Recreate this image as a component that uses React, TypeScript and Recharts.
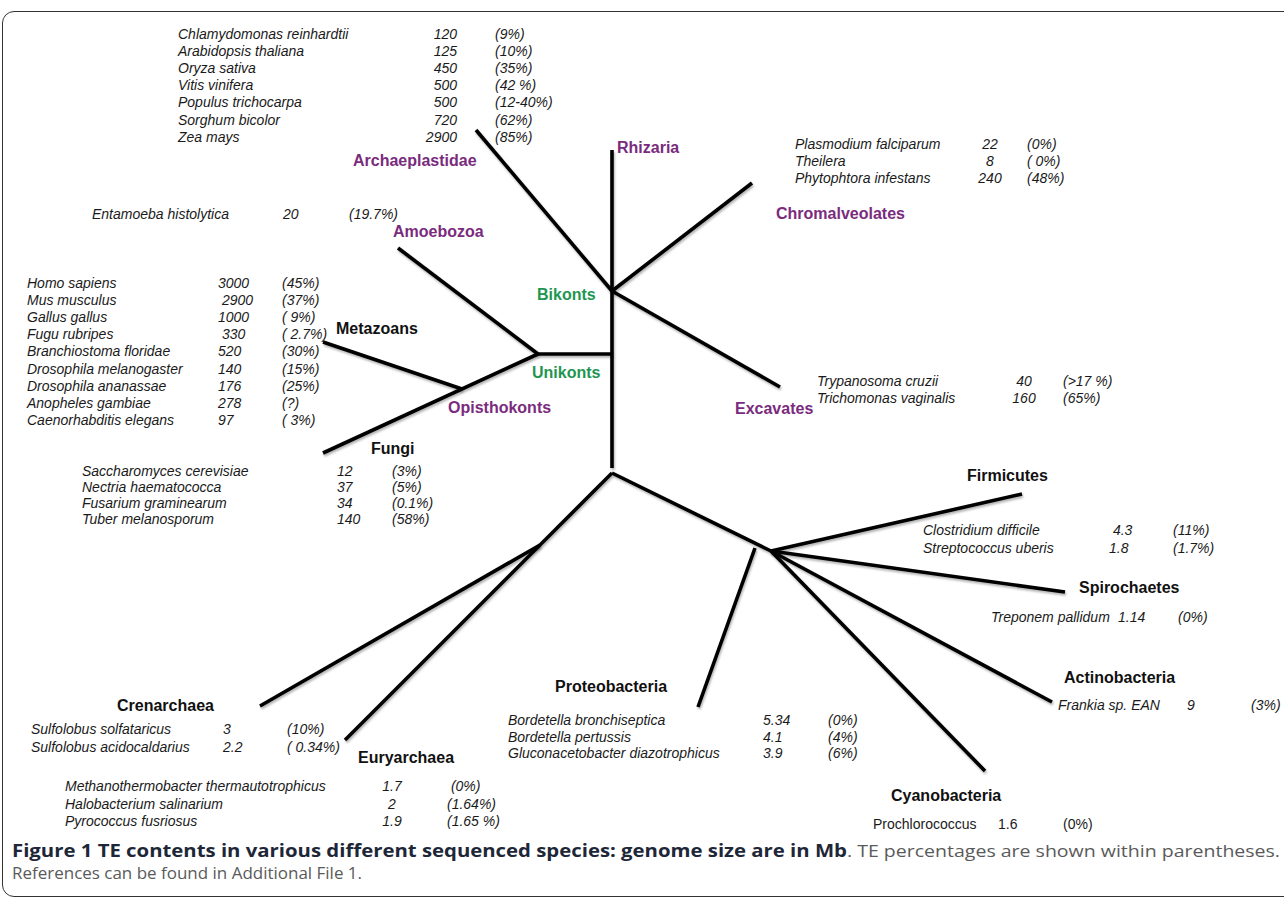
import React from 'react';
import { ScatterChart, Scatter, XAxis, YAxis, ReferenceLine } from 'recharts';

const W = 1284;
const H = 902;

// tree nodes, in figure-plane coordinates
const nodes: Record<string, [number, number]> = {
  bikonts: [612, 291],
  rhizaria: [612, 150],
  archaeplastidae: [476, 130],
  chromalveolates: [752, 183],
  excavates: [780, 387],
  unikontBase: [612, 354],
  unikonts: [538, 354],
  amoebozoa: [398, 248],
  fungi: [323, 453],
  metazoa: [323, 342],
  opisthokonts: [462, 389],
  trunkEnd: [612, 468],
  root: [612, 473],
  archaea: [540, 545],
  crenarchaea: [260, 706],
  euryarchaea: [345, 740],
  bacteria: [771, 551],
  proteoBase: [755, 548],
  firmicutes: [1022, 494],
  spirochaetes: [1065, 592],
  actinobacteria: [1052, 702],
  cyanobacteria: [985, 771],
  proteobacteria: [698, 707],
};

const edges: [string, string][] = [
  ['rhizaria', 'trunkEnd'],
  ['archaeplastidae', 'bikonts'],
  ['chromalveolates', 'bikonts'],
  ['excavates', 'bikonts'],
  ['unikontBase', 'unikonts'],
  ['unikonts', 'amoebozoa'],
  ['unikonts', 'fungi'],
  ['metazoa', 'opisthokonts'],
  ['root', 'euryarchaea'],
  ['archaea', 'crenarchaea'],
  ['root', 'bacteria'],
  ['bacteria', 'firmicutes'],
  ['bacteria', 'spirochaetes'],
  ['bacteria', 'actinobacteria'],
  ['bacteria', 'cyanobacteria'],
  ['proteoBase', 'proteobacteria'],
];

// clade names
const cladeNames = [
  'Archaeplastidae', 'Rhizaria', 'Chromalveolates', 'Amoebozoa', 'Opisthokonts', 'Excavates',
  'Bikonts', 'Unikonts',
  'Metazoans', 'Fungi', 'Firmicutes', 'Spirochaetes', 'Actinobacteria', 'Proteobacteria',
  'Crenarchaea', 'Euryarchaea', 'Cyanobacteria',
];
const cladeKinds = [
  'p', 'p', 'p', 'p', 'p', 'p',
  'g', 'g',
  'k', 'k', 'k', 'k', 'k', 'k', 'k', 'k', 'k',
];
const cladeAnchors: [number, number][] = [
  [353, 160], [617, 147], [776, 213], [393, 231], [448, 407], [735, 408],
  [537, 294], [532, 372],
  [336, 328], [371, 448], [967, 475], [1079, 587], [1064, 677], [555, 686],
  [117, 705], [358, 757], [891, 795],
];

// species: name, genome size (Mb), TE percentage
const plantNames = ['Chlamydomonas reinhardtii', 'Arabidopsis thaliana', 'Oryza sativa', 'Vitis vinifera', 'Populus trichocarpa', 'Sorghum bicolor', 'Zea mays'];
const plantSizes = ['120', '125', '450', '500', '500', '720', '2900'];
const plantPcts = ['(9%)', '(10%)', '(35%)', '(42 %)', '(12-40%)', '(62%)', '(85%)'];

const chromNames = ['Plasmodium falciparum', 'Theilera', 'Phytophtora infestans'];
const chromSizes = ['22', '8', '240'];
const chromPcts = ['(0%)', '( 0%)', '(48%)'];

const amoebaNames = ['Entamoeba histolytica'];
const amoebaSizes = ['20'];
const amoebaPcts = ['(19.7%)'];

const metaNames = ['Homo sapiens', 'Mus musculus', 'Gallus gallus', 'Fugu rubripes', 'Branchiostoma floridae', 'Drosophila melanogaster', 'Drosophila ananassae', 'Anopheles gambiae', 'Caenorhabditis elegans'];
const metaSizes = ['3000', ' 2900', '1000', ' 330', '520', '140', '176', '278', '97'];
const metaPcts = ['(45%)', '(37%)', '( 9%)', '( 2.7%)', '(30%)', '(15%)', '(25%)', '(?)', '( 3%)'];

const fungiNames = ['Saccharomyces cerevisiae', 'Nectria haematococca', 'Fusarium graminearum', 'Tuber melanosporum'];
const fungiSizes = ['12', '37', '34', '140'];
const fungiPcts = ['(3%)', '(5%)', '(0.1%)', '(58%)'];

const excavNames = ['Trypanosoma cruzii', 'Trichomonas vaginalis'];
const excavSizes = ['40', '160'];
const excavPcts = ['(>17 %)', '(65%)'];

const firmNames = ['Clostridium difficile', 'Streptococcus uberis'];
const firmSizes = [' 4.3', '1.8'];
const firmPcts = ['(11%)', '(1.7%)'];

const spiroNames = ['Treponem pallidum'];
const spiroSizes = ['1.14'];
const spiroPcts = ['(0%)'];

const actinoNames = ['Frankia sp. EAN'];
const actinoSizes = ['9'];
const actinoPcts = ['(3%)'];

const cyanoNames = ['Prochlorococcus'];
const cyanoSizes = ['1.6'];
const cyanoPcts = ['(0%)'];

const proteoNames = ['Bordetella bronchiseptica', 'Bordetella pertussis', 'Gluconacetobacter diazotrophicus'];
const proteoSizes = ['5.34', '4.1', '3.9'];
const proteoPcts = ['(0%)', '(4%)', '(6%)'];

const crenNames = ['Sulfolobus solfataricus', 'Sulfolobus acidocaldarius'];
const crenSizes = ['3', '2.2'];
const crenPcts = ['(10%)', '( 0.34%)'];

const euryNames = ['Methanothermobacter thermautotrophicus', 'Halobacterium salinarium', 'Pyrococcus fusriosus'];
const eurySizes = ['1.7', '2', '1.9'];
const euryPcts = [' (0%)', '(1.64%)', '(1.65 %)'];

type Group = {
  names: string[]; sizes: string[]; pcts: string[];
  nameX: number; sizeX: number; sizeAnchor: string; pctX: number;
  y0: number; dy: number; upright?: boolean;
};

const groups: Group[] = [
  { names: plantNames, sizes: plantSizes, pcts: plantPcts, nameX: 178, sizeX: 457, sizeAnchor: 'end', pctX: 495, y0: 34, dy: 17.1 },
  { names: chromNames, sizes: chromSizes, pcts: chromPcts, nameX: 795, sizeX: 990, sizeAnchor: 'middle', pctX: 1027, y0: 144, dy: 17 },
  { names: amoebaNames, sizes: amoebaSizes, pcts: amoebaPcts, nameX: 92, sizeX: 283, sizeAnchor: 'start', pctX: 349, y0: 214, dy: 17 },
  { names: metaNames, sizes: metaSizes, pcts: metaPcts, nameX: 27, sizeX: 218, sizeAnchor: 'start', pctX: 282, y0: 283, dy: 17.1 },
  { names: fungiNames, sizes: fungiSizes, pcts: fungiPcts, nameX: 82, sizeX: 337, sizeAnchor: 'start', pctX: 392, y0: 471, dy: 16 },
  { names: excavNames, sizes: excavSizes, pcts: excavPcts, nameX: 817, sizeX: 1024, sizeAnchor: 'middle', pctX: 1063, y0: 381, dy: 17 },
  { names: firmNames, sizes: firmSizes, pcts: firmPcts, nameX: 923, sizeX: 1109, sizeAnchor: 'start', pctX: 1173, y0: 530, dy: 18 },
  { names: spiroNames, sizes: spiroSizes, pcts: spiroPcts, nameX: 991, sizeX: 1118, sizeAnchor: 'start', pctX: 1178, y0: 617, dy: 17 },
  { names: actinoNames, sizes: actinoSizes, pcts: actinoPcts, nameX: 1058, sizeX: 1187, sizeAnchor: 'start', pctX: 1251, y0: 705, dy: 17 },
  { names: cyanoNames, sizes: cyanoSizes, pcts: cyanoPcts, nameX: 873, sizeX: 998, sizeAnchor: 'start', pctX: 1063, y0: 824, dy: 17, upright: true },
  { names: proteoNames, sizes: proteoSizes, pcts: proteoPcts, nameX: 508, sizeX: 763, sizeAnchor: 'start', pctX: 828, y0: 720, dy: 16.5 },
  { names: crenNames, sizes: crenSizes, pcts: crenPcts, nameX: 31, sizeX: 223, sizeAnchor: 'start', pctX: 287, y0: 729, dy: 18 },
  { names: euryNames, sizes: eurySizes, pcts: euryPcts, nameX: 65, sizeX: 392, sizeAnchor: 'middle', pctX: 447, y0: 786, dy: 17.5 },
];

const PURPLE = '#7a2b7d';
const GREEN = '#1e9650';

type Lbl = { x: number; y: number; text: string; kind: string; anchor?: string };

const cladePoints: Lbl[] = cladeNames.map((t, i) => ({
  x: cladeAnchors[i][0], y: cladeAnchors[i][1], text: t, kind: cladeKinds[i],
}));

const speciesPoints: Lbl[] = groups.flatMap((g) =>
  g.names.flatMap((n, i) => {
    const y = g.y0 + i * g.dy;
    const kind = g.upright ? 'u' : 'i';
    return [
      { x: g.nameX, y, text: n, kind },
      { x: g.sizeX, y, text: g.sizes[i], kind, anchor: g.sizeAnchor },
      { x: g.pctX, y, text: g.pcts[i], kind },
    ];
  })
);

const CladeText = (props: any) => {
  const { cx, cy, payload } = props;
  const fill = payload.kind === 'p' ? PURPLE : payload.kind === 'g' ? GREEN : '#111';
  return (
    <text x={cx} y={cy} dy="0.36em" fill={fill} fontSize={16} fontWeight="bold"
      fontFamily="'Liberation Sans', Arial, sans-serif">
      {payload.text}
    </text>
  );
};

const SpeciesText = (props: any) => {
  const { cx, cy, payload } = props;
  return (
    <text x={cx} y={cy} dy="0.36em" fill="#1a1a1a" fontSize={14}
      fontStyle={payload.kind === 'i' ? 'italic' : 'normal'}
      textAnchor={payload.anchor || 'start'}
      style={{ whiteSpace: 'pre' }}
      fontFamily="'Liberation Sans', Arial, sans-serif">
      {payload.text}
    </text>
  );
};

const captionTitle = 'Figure 1 TE contents in various different sequenced species: genome size are in Mb';
const captionRest = '. TE percentages are shown within parentheses.';
const captionLine2 = 'References can be found in Additional File 1.';

export default function App() {
  return (
    <div style={{ position: 'absolute', left: 0, top: 0, width: W, height: H, overflow: 'hidden', background: '#fff' }}>
      <style>{'.recharts-reference-line line { filter: drop-shadow(1px 2px 1.2px rgba(0,0,0,0.3)); }'}</style>
      <div style={{
        position: 'absolute', left: 2, top: 11, width: 1320, height: 886,
        border: '1.5px solid #333', borderRadius: 12, boxSizing: 'border-box',
      }} />
      <div style={{ position: 'absolute', left: 0, top: 0 }}>
        <ScatterChart width={W} height={H} margin={{ top: 0, right: 0, bottom: 0, left: 0 }}>
          <XAxis type="number" dataKey="x" domain={[0, W]} hide />
          <YAxis type="number" dataKey="y" domain={[0, H]} reversed hide />
          {edges.map(([a, b], i) => (
            <ReferenceLine
              key={i}
              segment={[{ x: nodes[a][0], y: nodes[a][1] }, { x: nodes[b][0], y: nodes[b][1] }]}
              stroke="#000"
              strokeWidth={3.6}
              ifOverflow="visible"
            />
          ))}
          <Scatter data={cladePoints} shape={CladeText} isAnimationActive={false} />
          <Scatter data={speciesPoints} shape={SpeciesText} isAnimationActive={false} />
        </ScatterChart>
      </div>
      <svg width={W} height={60} style={{ position: 'absolute', left: 0, top: 836 }}
        fontFamily="'Open Sans', sans-serif" fontSize={17}>
        <text x={12} y={21} textLength={835} lengthAdjust="spacingAndGlyphs" fontWeight="bold" fill="#1e2738">
          {captionTitle}
        </text>
        <text x={847} y={21} textLength={433} lengthAdjust="spacingAndGlyphs" fill="#5a5a5a">
          {captionRest}
        </text>
        <text x={12} y={43} textLength={350} lengthAdjust="spacingAndGlyphs" fill="#5a5a5a">
          {captionLine2}
        </text>
      </svg>
    </div>
  );
}
